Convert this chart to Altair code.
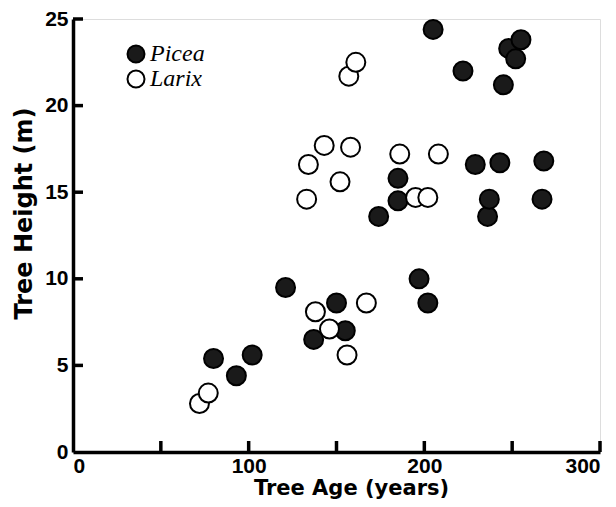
import altair as alt
import pandas as pd

# ---- data ----
picea_age = [80, 93, 102, 121, 137, 150, 155, 174, 185, 185, 197, 202, 205, 222,
             229, 236, 237, 243, 245, 248, 252, 255, 267, 268]
picea_height = [5.4, 4.4, 5.6, 9.5, 6.5, 8.6, 7.0, 13.6, 15.8, 14.5, 10.0, 8.6, 24.4, 22.0,
                16.6, 13.6, 14.6, 16.7, 21.2, 23.3, 22.7, 23.8, 14.6, 16.8]
larix_age = [72, 77, 133, 134, 138, 143, 146, 152, 156, 157, 158, 161, 167, 186, 195, 202, 208]
larix_height = [2.8, 3.4, 14.6, 16.6, 8.1, 17.7, 7.1, 15.6, 5.6, 21.7, 17.6, 22.5, 8.6,
                17.2, 14.7, 14.7, 17.2]

species = ["Picea", "Larix"]
x_ticks = [50, 100, 150, 200, 250, 300]
x_labels = [0, 100, 200, 300]
y_ticks = [5, 10, 15, 20, 25]

df = pd.DataFrame({
    "age": picea_age + larix_age,
    "height": picea_height + larix_height,
    "species": ["Picea"] * len(picea_age) + ["Larix"] * len(larix_age),
})
xt = pd.DataFrame({"v": x_ticks})
yt = pd.DataFrame({"v": y_ticks})

W, H = 527, 433
xscale = alt.Scale(domain=[0, 300], nice=False, zero=True)
yscale = alt.Scale(domain=[0, 25], nice=False, zero=True)

points = alt.Chart(df).mark_point(
    shape="circle", size=361, stroke="black", strokeWidth=2, opacity=1, fillOpacity=1
).encode(
    x=alt.X("age:Q", scale=xscale, axis=alt.Axis(
        values=x_labels, ticks=False, grid=False, labelFlush=True,
        domainColor="black", domainWidth=3.5,
        labelFont="Liberation Sans", labelFontWeight="bold", labelFontSize=21,
        labelColor="black", labelPadding=3,
        title="Tree Age (years)", titleFont="DejaVu Sans", titleFontWeight="bold",
        titleFontSize=21, titleColor="black", titleX=278, titleY=42,
        titleAlign="center", titleBaseline="alphabetic",
    )),
    y=alt.Y("height:Q", scale=yscale, axis=alt.Axis(
        values=[0] + y_ticks, ticks=False, grid=False,
        domainColor="black", domainWidth=3.5,
        labelFont="Liberation Sans", labelFontWeight="bold", labelFontSize=21,
        labelColor="black", labelPadding=5,
        title="Tree Height (m)", titleFont="DejaVu Sans", titleFontWeight="bold",
        titleFontSize=24, titleColor="black", titleX=-49, titleY=194,
        titleAngle=270, titleAlign="center", titleBaseline="middle",
    )),
    fill=alt.Fill("species:N", scale=alt.Scale(domain=species, range=["#1a1a1a", "white"]),
                  legend=alt.Legend(
                      title=None, orient="none", legendX=51, legendY=23,
                      symbolType="circle", symbolSize=289, symbolStrokeColor="black",
                      symbolStrokeWidth=2, labelFont="Liberation Serif",
                      labelFontStyle="italic", labelFontSize=24, labelColor="black",
                      labelOffset=2, rowPadding=-2, padding=0)),
)

yticks = alt.Chart(yt).mark_rule(color="black", strokeWidth=3.5).encode(
    y=alt.Y("v:Q", scale=yscale), x=alt.value(0), x2=alt.value(10)
)
xticks = alt.Chart(xt).mark_rule(color="black", strokeWidth=3.5).encode(
    x=alt.X("v:Q", scale=xscale), y=alt.value(H), y2=alt.value(H - 11)
)

chart = alt.layer(yticks, xticks, points).properties(
    width=W, height=H,
    padding={"left": 65, "top": 11, "right": 8, "bottom": 47},
    autosize=alt.AutoSizeParams(type="none"),
).configure_view(stroke=None).configure(background="white")

chart.save("out.html", embed_options={"renderer": "svg", "actions": False})
